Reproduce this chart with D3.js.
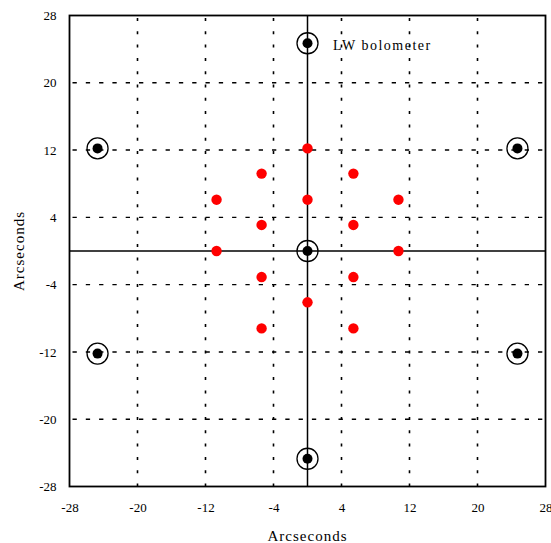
<!DOCTYPE html>
<html><head><meta charset="utf-8">
<script src="https://cdn.jsdelivr.net/npm/d3@7"></script>
<style>body{margin:0;background:#fff}svg{display:block}</style>
</head><body>
<svg id="chart" width="551" height="543"></svg>
<script>
// Data
const tickValues = [-28, -20, -12, -4, 4, 12, 20, 28];
const gridValues = [-20, -12, -4, 4, 12, 20];
const bolometerX = [0, -24.7, 24.7, 0, -24.7, 24.7, 0];
const bolometerY = [24.7, 12.2, 12.2, 0, -12.2, -12.2, -24.7];
const redX = [0, -5.4, 5.4, -10.7, 0, 10.7, -5.4, 5.4, -10.7, 10.7, -5.4, 5.4, 0, -5.4, 5.4];
const redY = [12.2, 9.2, 9.2, 6.1, 6.1, 6.1, 3.1, 3.1, 0, 0, -3.1, -3.1, -6.1, -9.2, -9.2];
const xTitle = "Arcseconds";
const yTitle = "Arcseconds";
const annotation = "LW bolometer";

const svg = d3.select("#chart");
const L = 69.5, R = 545.5, T = 15.5, B = 486.5;
const x = d3.scaleLinear().domain([-28, 28]).range([L, R]);
const y = d3.scaleLinear().domain([-28, 28]).range([B, T]);
const font = "'Liberation Serif', 'DejaVu Serif', serif";

// vertical dotted grid
svg.append("g").selectAll("line").data(gridValues).join("line")
  .attr("x1", d => x(d)).attr("x2", d => x(d))
  .attr("y1", B).attr("y2", T)
  .attr("stroke", "#000").attr("stroke-width", 1.6)
  .attr("stroke-dasharray", "3,10.3");
// horizontal dashed grid
svg.append("g").selectAll("line").data(gridValues).join("line")
  .attr("x1", L).attr("x2", R)
  .attr("y1", d => y(d)).attr("y2", d => y(d))
  .attr("stroke", "#000").attr("stroke-width", 1.4)
  .attr("stroke-dasharray", "4.3,9")
  .attr("stroke-dashoffset", -3);
// zero axes
svg.append("line").attr("x1", x(0)).attr("x2", x(0)).attr("y1", T).attr("y2", B)
  .attr("stroke", "#000").attr("stroke-width", 1.5);
svg.append("line").attr("x1", L).attr("x2", R).attr("y1", y(0)).attr("y2", y(0))
  .attr("stroke", "#000").attr("stroke-width", 1.5);
// frame
svg.append("rect").attr("x", L).attr("y", T).attr("width", R - L).attr("height", B - T)
  .attr("fill", "none").attr("stroke", "#000").attr("stroke-width", 1.8);

// axes (labels only)
const fmt = d => String(d);
const xAxis = d3.axisBottom(x).tickValues(tickValues).tickSize(0).tickPadding(14).tickFormat(fmt);
const gx = svg.append("g").attr("transform", `translate(0,${B})`).call(xAxis);
const yAxis = d3.axisLeft(y).tickValues(tickValues).tickSize(0).tickPadding(13).tickFormat(fmt);
const gy = svg.append("g").attr("transform", `translate(${L},0)`).call(yAxis);
[gx, gy].forEach(g => {
  g.select(".domain").remove();
  g.selectAll("text").attr("font-family", font).attr("font-size", 13).attr("fill", "#000");
});
gx.selectAll("text").attr("dy", "0.32em").attr("y", 21);

// axis titles
svg.append("text").attr("x", (L + R) / 2).attr("y", 541)
  .attr("text-anchor", "middle").attr("font-family", font).attr("font-size", 15)
  .attr("letter-spacing", 1).text(xTitle);
svg.append("text").attr("transform", `translate(24,${y(0)}) rotate(-90)`)
  .attr("text-anchor", "middle").attr("font-family", font).attr("font-size", 15)
  .attr("letter-spacing", 1).text(yTitle);

// red points
svg.append("g").selectAll("circle").data(redX.map((d, i) => [d, redY[i]])).join("circle")
  .attr("cx", d => x(d[0])).attr("cy", d => y(d[1])).attr("r", 5.2).attr("fill", "#ff0000");

// bolometer symbols
const bolo = svg.append("g").selectAll("g").data(bolometerX.map((d, i) => [d, bolometerY[i]])).join("g")
  .attr("transform", d => `translate(${x(d[0])},${y(d[1])})`);
bolo.append("circle").attr("r", 10.5).attr("fill", "none").attr("stroke", "#000").attr("stroke-width", 1.3);
bolo.append("circle").attr("r", 5).attr("fill", "#000");

// annotation
svg.append("text").attr("x", 333).attr("y", 49.5)
  .attr("font-family", font).attr("font-size", 14).attr("letter-spacing", 1.5)
  .text(annotation);
</script>
</body></html>
